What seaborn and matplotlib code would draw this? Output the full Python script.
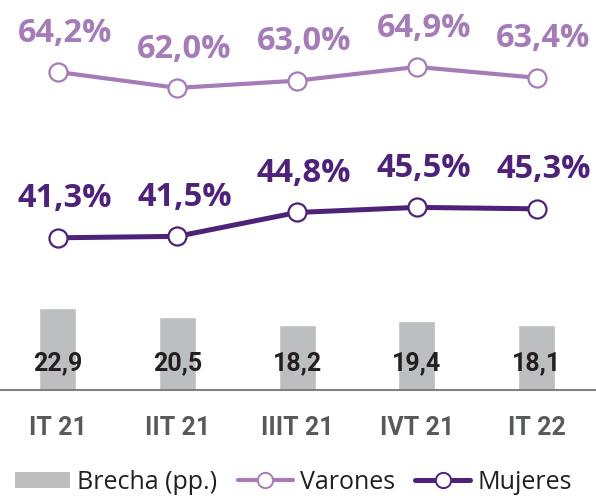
import matplotlib
matplotlib.use("Agg")
import matplotlib.pyplot as plt
import seaborn as sns
import numpy as np
from matplotlib.patches import Patch
from matplotlib.lines import Line2D

# Data
quarters = ["IT 21", "IIT 21", "IIIT 21", "IVT 21", "IT 22"]
brecha = [22.9, 20.5, 18.2, 19.4, 18.1]
varones = [64.2, 62.0, 63.0, 64.9, 63.4]
mujeres = [41.3, 41.5, 44.8, 45.5, 45.3]

c_var = "#a57bb8"
c_muj = "#4f2279"
c_bar = "#bdbec0"
c_text = "#231f20"
c_tick = "#58595b"

sns.set_style("white")
plt.rcParams["font.family"] = ["Roboto", "DejaVu Sans"]

def fmt(v):
    return f"{v:.1f}".replace(".", ",")

fig = plt.figure(figsize=(5.96, 4.96), dpi=100)
ax = fig.add_axes([0, 106 / 496, 1, 390 / 496])
x = np.arange(len(quarters))

# bars (brecha)
sns.barplot(x=x, y=brecha, ax=ax, color=c_bar, width=0.31, saturation=1, native_scale=True)
ax.set_xlim(-0.482, 4.497)
ax.set_ylim(0, 108.9)
for i, v in enumerate(brecha):
    ax.text(i, 7.5, fmt(v), ha="center", va="center", fontsize=18,
            fontweight="bold", color=c_text)

ax.set_xticks(x)
ax.set_xticklabels(quarters, fontsize=18, fontweight="bold", color=c_tick)
ax.tick_params(axis="x", length=0, pad=19)
ax.set_yticks([])
for s in ["top", "right", "left"]:
    ax.spines[s].set_visible(False)
ax.spines["bottom"].set_color("#808080")
ax.spines["bottom"].set_linewidth(1.5)

# lines (tasas)
ax2 = ax.twinx()
ax2.set_ylim(20.28, 74.14)
sns.lineplot(x=x, y=varones, ax=ax2, color=c_var, linewidth=3, marker="o",
             markersize=13, markerfacecolor="white", markeredgecolor=c_var,
             markeredgewidth=1.6)
sns.lineplot(x=x, y=mujeres, ax=ax2, color=c_muj, linewidth=3.6, marker="o",
             markersize=13, markerfacecolor="white", markeredgecolor=c_muj,
             markeredgewidth=1.6)
ax2.set_xlim(-0.482, 4.497)
ax2.set_yticks([])
ax2.axis("off")

pfam = ["Open Sans", "DejaVu Sans"]
for i in range(len(quarters)):
    ax2.annotate(fmt(varones[i]) + "%", (i, varones[i]), xytext=(5, 28),
                 textcoords="offset points", ha="center", va="center",
                 fontsize=23.5, fontweight="bold", color=c_var, family=pfam)
    ax2.annotate(fmt(mujeres[i]) + "%", (i, mujeres[i]), xytext=(5, 28),
                 textcoords="offset points", ha="center", va="center",
                 fontsize=23.5, fontweight="bold", color=c_muj, family=pfam)

handles = [
    Patch(facecolor=c_bar, edgecolor="none"),
    Line2D([], [], color=c_var, lw=3, marker="o", markersize=11,
           markerfacecolor="white", markeredgecolor=c_var, markeredgewidth=1.4),
    Line2D([], [], color=c_muj, lw=3.6, marker="o", markersize=11,
           markerfacecolor="white", markeredgecolor=c_muj, markeredgewidth=1.4),
]
leg = fig.legend(handles, ["Brecha (pp.)", "Varones", "Mujeres"], loc="center",
                 bbox_to_anchor=(0.4925, 0.028), ncol=3, frameon=False,
                 handlelength=2.2, handleheight=0.6, handletextpad=0.3,
                 columnspacing=0.8,
                 prop={"family": pfam, "size": 18})
for t in leg.get_texts():
    t.set_color(c_text)

fig.savefig("out.png", dpi=100)
